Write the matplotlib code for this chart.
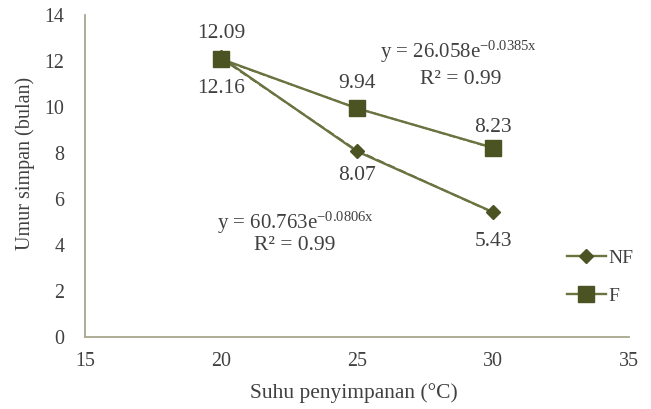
import numpy as np
import matplotlib
matplotlib.use("Agg")
import matplotlib.pyplot as plt
from matplotlib.lines import Line2D

# Data
temps = [20, 25, 30]
nf_values = [12.16, 8.07, 5.43]
f_values = [12.09, 9.94, 8.23]
nf_fit = (60.763, -0.0806)
f_fit = (26.058, -0.0385)
xticks = [15, 20, 25, 30, 35]
yticks = [0, 2, 4, 6, 8, 10, 12, 14]

plt.rcParams['font.family'] = ['Liberation Serif', 'DejaVu Serif']
plt.rcParams['mathtext.fontset'] = 'custom'
plt.rcParams['mathtext.rm'] = 'Liberation Serif'
plt.rcParams['mathtext.it'] = 'Liberation Serif'

color = '#4b5323'
linec = '#6b7340'
text_c = '#404040'

fig = plt.figure(figsize=(6.51, 4.09), dpi=100)
ax = fig.add_axes([85 / 651, 72 / 409, 544 / 651, 322 / 409])

xs = np.array(temps, dtype=float)
# trendlines
ax.plot(xs, nf_fit[0] * np.exp(nf_fit[1] * xs), color=color, lw=1.4, ls=(0, (4, 2)), zorder=2)
ax.plot(xs, f_fit[0] * np.exp(f_fit[1] * xs), color=color, lw=1.2, ls=(0, (4, 2)), zorder=2)
# series
ax.plot(temps, nf_values, color=linec, lw=1.7, marker='D', ms=7, mfc=color, mec=color, zorder=3)
ax.plot(temps, f_values, color=linec, lw=1.7, marker='s', ms=11, mfc=color, mec=color, zorder=3)

ax.set_xlim(15, 35)
ax.set_ylim(0, 14)
ax.set_xticks(xticks)
ax.set_yticks(yticks)
ax.tick_params(length=0, labelsize=14.4, colors=text_c)
ax.tick_params(axis='y', pad=15)
ax.tick_params(axis='x', pad=11)
for s in ['top', 'right']:
    ax.spines[s].set_visible(False)
for s in ['left', 'bottom']:
    ax.spines[s].set_color('#a8a890')
    ax.spines[s].set_linewidth(1.3)

ax.set_xlabel('Suhu penyimpanan (\u00b0C)', fontsize=15.5, color=text_c)
ax.set_ylabel('Umur simpan (bulan)', fontsize=14.5, color=text_c)
ax.xaxis.set_label_coords(0.495, -0.143)
ax.yaxis.set_label_coords(-0.0914, 0.54)

# data labels
fs = 15.5
ax.text(20, 13.2, '12.09', ha='center', va='center', fontsize=fs, color=text_c)
ax.text(20, 10.8, '12.16', ha='center', va='center', fontsize=fs, color=text_c)
ax.text(25, 11.0, '9.94', ha='center', va='center', fontsize=fs, color=text_c)
ax.text(25, 7.0, '8.07', ha='center', va='center', fontsize=fs, color=text_c)
ax.text(30, 9.1, '8.23', ha='center', va='center', fontsize=fs, color=text_c)
ax.text(30, 4.17, '5.43', ha='center', va='center', fontsize=fs, color=text_c)

# equations
efs = 15
ax.text(28.75, 12.4, r'y = 26.058e$^{\mathregular{-0.0385x}}$', ha='center', va='center', fontsize=efs, color=text_c)
ax.text(28.8, 11.2, 'R\u00b2 = 0.99', ha='center', va='center', fontsize=15.5, color=text_c)
ax.text(22.75, 4.95, r'y = 60.763e$^{\mathregular{-0.0806x}}$', ha='center', va='center', fontsize=efs, color=text_c)
ax.text(22.71, 4.0, 'R\u00b2 = 0.99', ha='center', va='center', fontsize=15.5, color=text_c)

handles = [
    Line2D([], [], color=linec, lw=1.7, marker='D', ms=7, mfc=color, mec=color),
    Line2D([], [], color=linec, lw=1.7, marker='s', ms=11, mfc=color, mec=color),
]
fig.legend(handles, ['NF', 'F'], loc='center left', bbox_to_anchor=(567 / 651, (409 - 277) / 409),
           frameon=False, fontsize=14, handlelength=2.0, handletextpad=0.15,
           labelspacing=1.05, labelcolor=text_c, borderpad=0, borderaxespad=0)

fig.savefig('out.png', dpi=100)
